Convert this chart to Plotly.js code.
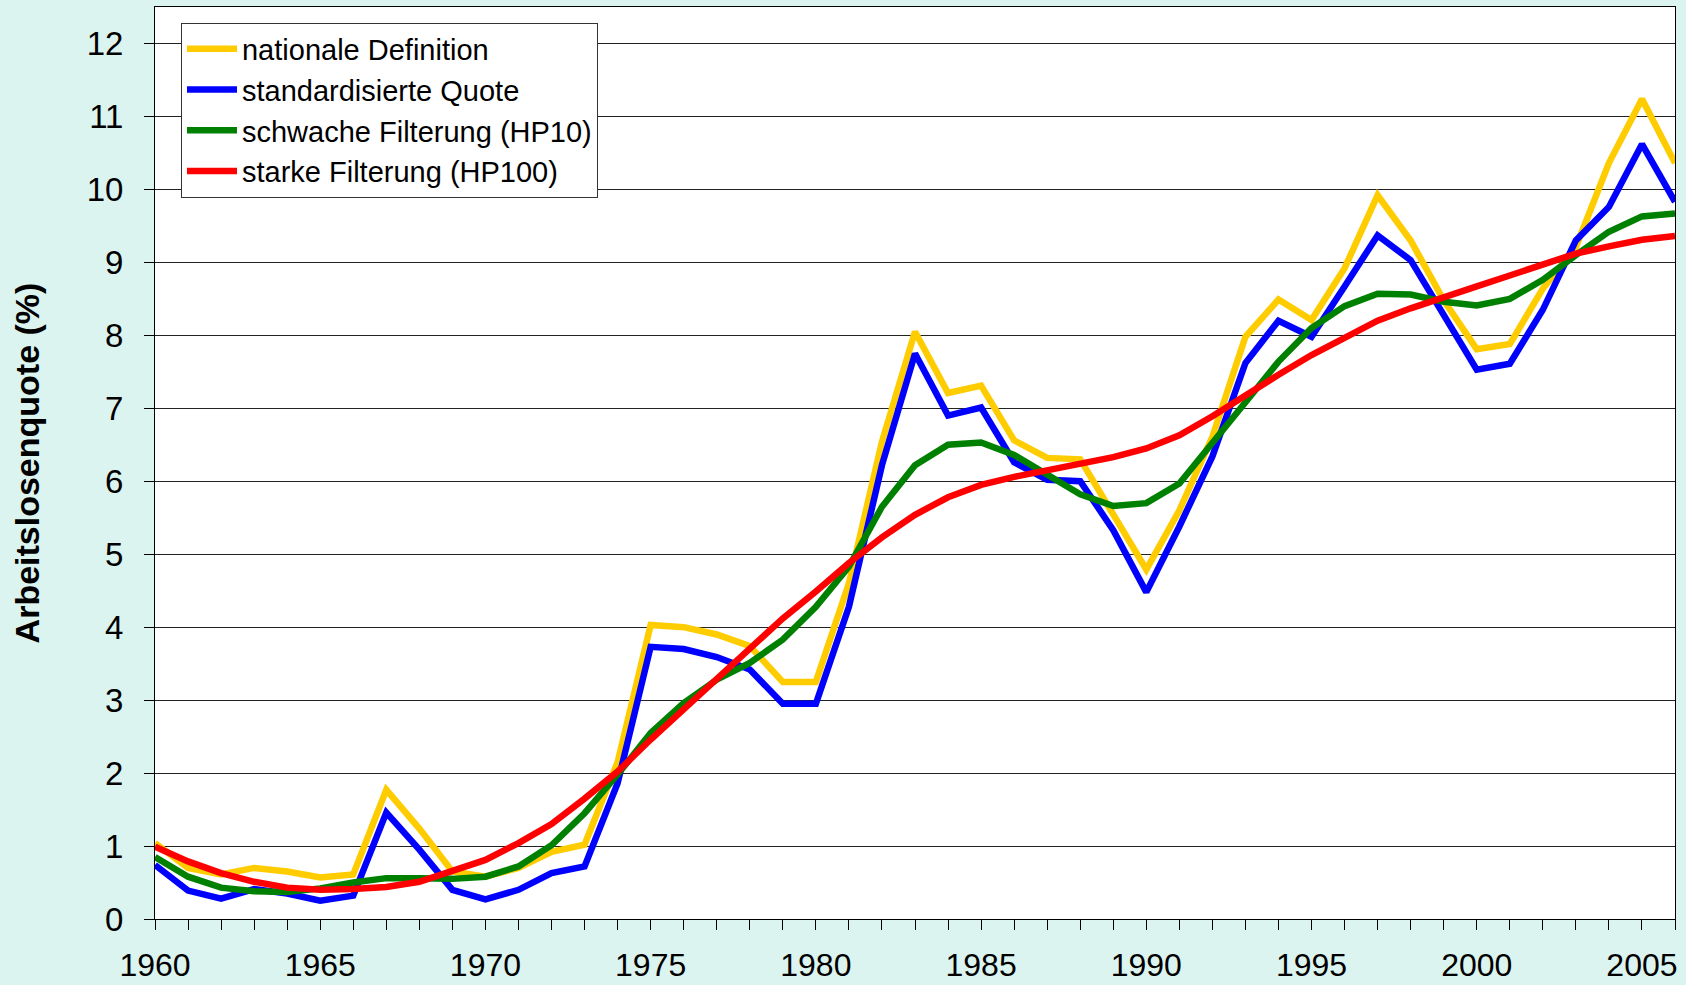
<!DOCTYPE html>
<html>
<head>
<meta charset="utf-8">
<script src="https://cdn.plot.ly/plotly-3.0.1.min.js"></script>
<style>
html,body{margin:0;padding:0;background:#DCF4EF;}
#chart{width:1686px;height:985px;}
</style>
</head>
<body>
<div id="chart"></div>
<script>
const years = [1960,1961,1962,1963,1964,1965,1966,1967,1968,1969,1970,1971,1972,1973,1974,1975,1976,1977,1978,1979,1980,1981,1982,1983,1984,1985,1986,1987,1988,1989,1990,1991,1992,1993,1994,1995,1996,1997,1998,1999,2000,2001,2002,2003,2004,2005,2006];

const nationaleDefinition = [1.04,0.70,0.61,0.70,0.65,0.57,0.61,1.77,1.24,0.65,0.58,0.70,0.92,1.02,2.15,4.03,4.00,3.90,3.74,3.25,3.25,4.60,6.54,8.05,7.21,7.31,6.56,6.32,6.30,5.54,4.79,5.60,6.61,7.98,8.49,8.21,8.92,9.92,9.30,8.48,7.81,7.88,8.64,9.21,10.36,11.24,10.36];

const standardisierteQuote = [0.74,0.39,0.28,0.41,0.35,0.25,0.32,1.46,0.95,0.40,0.27,0.40,0.63,0.72,1.86,3.73,3.70,3.59,3.42,2.95,2.95,4.28,6.22,7.75,6.90,7.01,6.26,6.02,6.00,5.33,4.48,5.38,6.34,7.62,8.20,7.98,8.67,9.37,9.03,8.28,7.53,7.61,8.35,9.30,9.76,10.62,9.83];

const schwacheFilterung = [0.85,0.58,0.43,0.38,0.37,0.42,0.50,0.56,0.56,0.55,0.58,0.72,1.01,1.45,1.98,2.55,2.96,3.28,3.51,3.83,4.28,4.83,5.65,6.22,6.50,6.53,6.36,6.09,5.82,5.66,5.70,5.97,6.52,7.07,7.64,8.10,8.40,8.57,8.56,8.46,8.41,8.50,8.76,9.10,9.42,9.63,9.67];

const starkeFilterung = [0.99,0.79,0.63,0.51,0.43,0.40,0.41,0.44,0.51,0.65,0.81,1.04,1.30,1.65,2.02,2.46,2.87,3.30,3.71,4.12,4.49,4.88,5.23,5.54,5.78,5.95,6.06,6.15,6.22,6.33,6.45,6.63,6.89,7.18,7.46,7.73,7.97,8.20,8.37,8.51,8.67,8.82,8.96,9.12,9.22,9.31,9.36];

const seriesNames = ["nationale Definition","standardisierte Quote","schwache Filterung (HP10)","starke Filterung (HP100)"];
const xTickVals = [1960,1965,1970,1975,1980,1985,1990,1995,2000,2005];
const xTickText = ["1960","1965","1970","1975","1980","1985","1990","1995","2000","2005"];
const yTitle = "Arbeitslosenquote (%)";

const colors = ["#FFCC00","#0000FF","#008000","#FF0000"];
const seriesData = [nationaleDefinition, standardisierteQuote, schwacheFilterung, starkeFilterung];

const traces = seriesData.map((d,i)=>({
  x: years, y: d, type: 'scatter', mode: 'lines', name: seriesNames[i],
  line: {color: colors[i], width: 6.5}
}));

const font = "Liberation Sans, Arial, sans-serif";

const layout = {
  width: 1686, height: 985,
  paper_bgcolor: '#DCF4EF',
  plot_bgcolor: '#FFFFFF',
  margin: {l:155, r:11, t:7, b:66, pad:0},
  font: {family: font, color: '#000', size: 30},
  showlegend: true,
  legend: {
    x: 0.0171, y: 0.983, xanchor: 'left', yanchor: 'top',
    bgcolor: '#FFFFFF', bordercolor: '#333', borderwidth: 1,
    font: {family: font, size: 29, color: '#000'},
    itemwidth: 50, traceorder: 'normal'
  },
  xaxis: {
    range: [1960, 2006], fixedrange: true,
    tickmode: 'array', tickvals: xTickVals, ticktext: xTickText,
    ticks: 'outside', ticklen: 10, tickwidth: 1, tickcolor: '#000',
    ticklabelstandoff: 8,
    minor: {dtick: 1, tick0: 1960, ticks: 'outside', ticklen: 10, tickwidth: 1, tickcolor: '#000', showgrid: false},
    showgrid: false, zeroline: false,
    showline: true, mirror: true, linecolor: '#000', linewidth: 1,
    tickfont: {family: font, size: 32, color: '#000'}
  },
  yaxis: {
    range: [0, 12.5], fixedrange: true,
    tickmode: 'linear', tick0: 0, dtick: 1,
    ticks: 'outside', ticklen: 10, tickwidth: 1, tickcolor: '#000',
    ticklabelstandoff: 14,
    showgrid: true, gridcolor: '#222', gridwidth: 1,
    zeroline: false,
    showline: true, mirror: true, linecolor: '#000', linewidth: 1,
    tickfont: {family: font, size: 33, color: '#000'},
    title: {text: yTitle, font: {family: font, size: 34, color: '#000', weight: 'bold'}, standoff: 36}
  }
};

Plotly.newPlot('chart', traces, layout, {displayModeBar: false, staticPlot: true});
</script>
</body>
</html>
